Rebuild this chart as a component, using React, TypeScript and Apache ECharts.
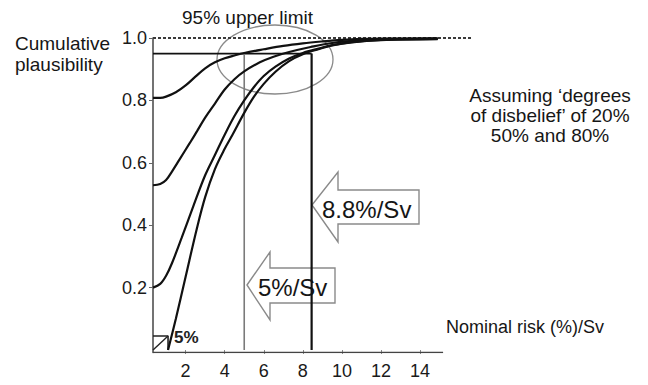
import React, { useEffect, useRef } from "react";
import * as echarts from "echarts";

const FONT = "'Liberation Sans', Arial, Helvetica, sans-serif";

// axis ticks
const xTicks = [2, 4, 6, 8, 10, 12, 14];
const yTicks = [0.2, 0.4, 0.6, 0.8, 1.0];

// cumulative plausibility curves (x = nominal risk %/Sv, y = cumulative plausibility)
const curveA: number[][] = [
  [0.33, 0.808], [0.7, 0.808], [1.0, 0.812], [1.5, 0.826], [2.0, 0.848], [2.5, 0.876],
  [3.0, 0.903], [3.5, 0.922], [4.0, 0.935], [4.5, 0.944], [5.0, 0.952], [6.0, 0.964],
  [7.0, 0.975], [8.0, 0.983], [9.0, 0.989], [10.0, 0.994], [11.0, 0.997], [12.0, 0.998], [14.9, 0.999],
];
const curveB: number[][] = [
  [0.33, 0.528], [0.7, 0.532], [1.0, 0.545], [1.3, 0.572], [1.7, 0.612], [2.2, 0.662],
  [2.6, 0.703], [3.0, 0.745], [3.5, 0.79], [4.0, 0.835], [4.5, 0.868], [5.0, 0.893],
  [5.8, 0.922], [6.5, 0.94], [7.3, 0.955], [8.4, 0.971], [9.5, 0.984], [11.0, 0.993],
  [12.5, 0.997], [14.9, 0.998],
];
const curveC: number[][] = [
  [0.33, 0.2], [0.7, 0.212], [1.0, 0.238], [1.3, 0.278], [1.8, 0.36], [2.4, 0.462],
  [3.0, 0.56], [3.5, 0.625], [4.0, 0.69], [4.5, 0.75], [5.0, 0.8], [5.5, 0.843],
  [6.0, 0.878], [6.6, 0.908], [7.3, 0.934], [8.0, 0.952], [8.8, 0.966], [9.5, 0.977],
  [10.5, 0.987], [12.0, 0.994], [14.9, 0.997],
];
const curveD: number[][] = [
  [1.1, 0.0], [1.5, 0.1], [2.0, 0.235], [2.57, 0.388], [3.0, 0.49], [3.5, 0.58],
  [4.0, 0.645], [4.4, 0.69], [5.0, 0.76], [5.5, 0.812], [6.0, 0.853], [6.6, 0.892],
  [7.3, 0.926], [8.0, 0.948], [8.8, 0.964], [9.5, 0.976], [10.5, 0.986], [12.0, 0.993],
  [14.9, 0.996],
];

// reference lines
const certaintyLine: number[][] = [[0.33, 1.0], [16.66, 1.0]];
const level95Line: number[][] = [[0.33, 0.95], [8.45, 0.95]];
const limit5Line: number[][] = [[5.0, 0.0], [5.0, 0.95]];
const limit88Line: number[][] = [[8.45, 0.0], [8.45, 0.95]];
const xAxisLine: number[][] = [[0.33, -0.008], [15.18, -0.008]];
const boxOutline: number[][] = [[0.33, 0.045], [1.1, 0.045], [1.1, 0.0]];
const boxDiagonal: number[][] = [[0.33, 0.0], [1.1, 0.045]];

const lineSeries = (data: number[][], color: string, width: number, type: any = "solid", z = 3) => ({
  type: "line",
  data,
  showSymbol: false,
  symbol: "none",
  silent: true,
  z,
  lineStyle: { color, width, type },
});

const curveSeries = (data: number[][]) => ({
  type: "line",
  data,
  smooth: 0.35,
  showSymbol: false,
  symbol: "none",
  silent: true,
  z: 4,
  lineStyle: { color: "#111", width: 2.2 },
});

const txt = (x: number, y: number, text: string, size: number, extra: any = {}) => ({
  type: "text",
  x,
  y,
  style: {
    text,
    fontSize: size,
    fontFamily: FONT,
    fill: "#161616",
    textVerticalAlign: "middle",
    verticalAlign: "middle",
    ...extra,
  },
});

export default function App() {
  const ref = useRef<HTMLDivElement>(null);
  useEffect(() => {
    if (!ref.current) return;
    const chart = echarts.init(ref.current, null, { renderer: "svg" });
    chart.setOption({
      animation: false,
      backgroundColor: "#fff",
      grid: { left: 153, top: 38, width: 319, height: 314.5, containLabel: false, outerBoundsMode: "none" },
      xAxis: {
        type: "value",
        min: 0.33,
        max: 16.66,
        axisLine: { show: false },
        splitLine: { show: false },
        axisTick: { show: true, customValues: xTicks, length: 4, lineStyle: { color: "#888", width: 1 } },
        axisLabel: { customValues: xTicks, fontSize: 18, fontFamily: FONT, color: "#1a1a1a", margin: 9 },
      },
      yAxis: {
        type: "value",
        min: -0.008,
        max: 1.0,
        axisLine: { show: true, lineStyle: { color: "#444", width: 1.5 } },
        splitLine: { show: false },
        axisTick: { show: true, customValues: yTicks, length: 4, lineStyle: { color: "#666", width: 1 } },
        axisLabel: {
          customValues: yTicks,
          fontSize: 18,
          fontFamily: FONT,
          color: "#1a1a1a",
          margin: 6,
          formatter: (v: number) => v.toFixed(1),
        },
      },
      graphic: [
        { type: "ellipse", shape: { cx: 275, cy: 59.5, rx: 58, ry: 34.5 }, style: { fill: "none", stroke: "#8a8a8a", lineWidth: 1.3 } },
        {
          type: "polygon",
          shape: { points: [[312, 205], [338, 172], [338, 190], [419, 190], [419, 224], [338, 224], [338, 242]] },
          style: { fill: "#fff", stroke: "#8a8a8a", lineWidth: 1.4 },
        },
        {
          type: "polygon",
          shape: { points: [[247, 285], [270, 252], [270, 268], [335, 268], [335, 303], [270, 303], [270, 320]] },
          style: { fill: "#fff", stroke: "#8a8a8a", lineWidth: 1.4 },
        },
        txt(322, 209, "8.8%/Sv", 24),
        txt(258, 287, "5%/Sv", 24),
        txt(247.5, 17, "95% upper limit", 19, { textAlign: "center", align: "center" }),
        txt(15, 43, "Cumulative", 19),
        txt(15, 64, "plausibility", 19),
        txt(550, 95, "Assuming \u2018degrees", 19, { textAlign: "center", align: "center" }),
        txt(550, 115, "of disbelief\u2019 of 20%", 19, { textAlign: "center", align: "center" }),
        txt(550, 135, "50% and 80%", 19, { textAlign: "center", align: "center" }),
        txt(446, 327, "Nominal risk (%)/Sv", 18),
        txt(174, 337, "5%", 17, { fontWeight: "bold", fill: "#222" }),
      ],
      series: [
        lineSeries(certaintyLine, "#3a3a3a", 2, [3, 2], 3),
        lineSeries(level95Line, "#111", 1.8),
        lineSeries(limit5Line, "#7a7a7a", 1.6),
        lineSeries(limit88Line, "#111", 2.2),
        lineSeries(xAxisLine, "#444", 1.5),
        lineSeries(boxOutline, "#222", 1.6),
        lineSeries(boxDiagonal, "#222", 1.4),
        curveSeries(curveA),
        curveSeries(curveB),
        curveSeries(curveC),
        curveSeries(curveD),
      ],
    });
    return () => chart.dispose();
  }, []);
  return <div ref={ref} style={{ position: "absolute", left: 0, top: 0, width: 648, height: 385 }} />;
}
